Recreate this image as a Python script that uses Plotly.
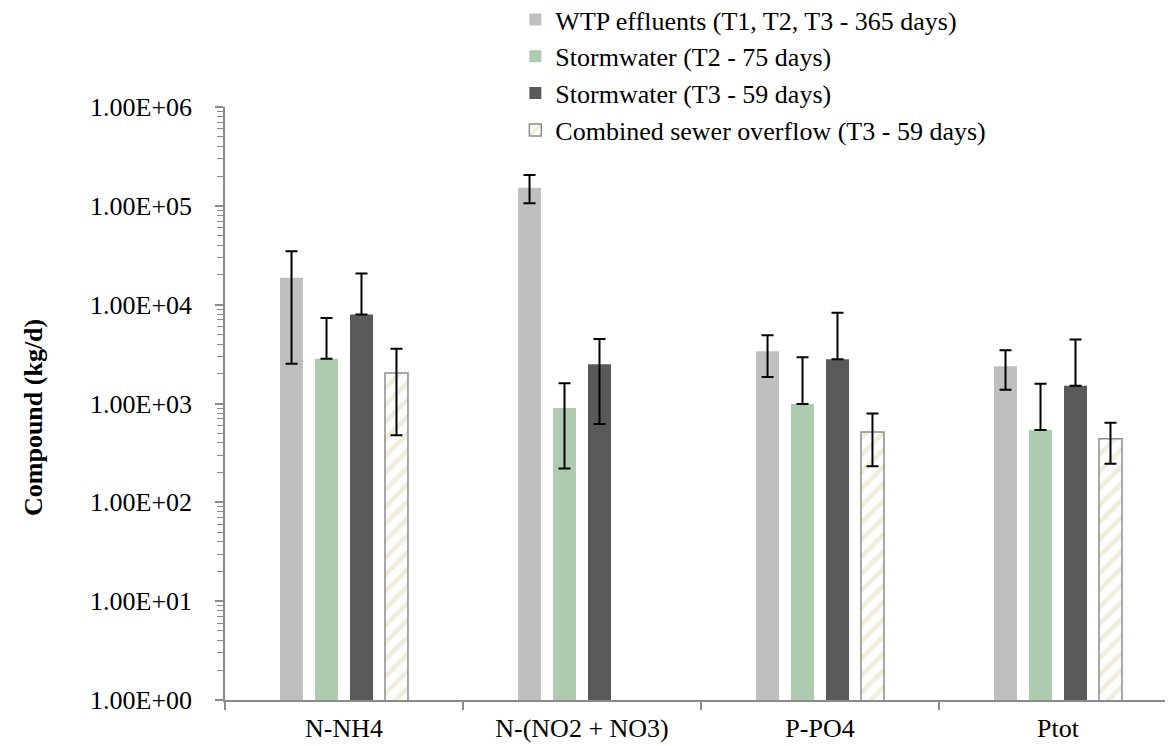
import plotly.graph_objects as go

categories = ["N-NH4", "N-(NO2 + NO3)", "P-PO4", "Ptot"]

series_names = [
    "WTP effluents (T1, T2, T3 - 365 days)",
    "Stormwater (T2 - 75 days)",
    "Stormwater (T3 - 59 days)",
    "Combined sewer overflow (T3 - 59 days)",
]

# mean values (kg/d)
wtp_values = [1.87e4, 1.52e5, 3.38e3, 2.38e3]
storm_t2_values = [2.83e3, 9.0e2, 9.9e2, 5.4e2]
storm_t3_values = [7.94e3, 2.5e3, 2.81e3, 1.51e3]
cso_values = [2.04e3, None, 5.16e2, 4.41e2]

# error bar upper ends
wtp_upper = [3.48e4, 2.05e5, 4.91e3, 3.46e3]
storm_t2_upper = [7.35e3, 1.6e3, 2.94e3, 1.58e3]
storm_t3_upper = [2.07e4, 4.5e3, 8.26e3, 4.43e3]
cso_upper = [3.59e3, None, 7.9e2, 6.37e2]

# error bar lower ends
wtp_lower = [2.53e3, 1.06e5, 1.85e3, 1.38e3]
storm_t2_lower = [2.83e3, 2.2e2, 9.9e2, 5.4e2]
storm_t3_lower = [7.94e3, 6.2e2, 2.81e3, 1.51e3]
cso_lower = [4.78e2, None, 2.32e2, 2.45e2]

y_tick_values = [1, 10, 100, 1000, 10000, 100000, 1000000]
y_tick_text = [f"{v:.2E}" for v in y_tick_values]

FONT = "Liberation Serif"
AXIS_COLOR = "#8A8A8A"


def err(vals, up, lo):
    plus, minus = [], []
    for v, u, l in zip(vals, up, lo):
        if v is None:
            plus.append(None)
            minus.append(None)
        else:
            plus.append(u - v)
            minus.append(v - l)
    return dict(type="data", symmetric=False, array=plus, arrayminus=minus,
                color="black", thickness=2, width=6)


fig = go.Figure()

styles = [
    dict(marker=dict(color="#BFBFBF", line=dict(width=0))),
    dict(marker=dict(color="#AFCBAF", line=dict(width=0))),
    dict(marker=dict(color="#595959", line=dict(width=0))),
    dict(marker=dict(color="white", line=dict(color="#8C8C8C", width=1.5),
                     pattern=dict(shape="/", fgcolor="#E2DCBB", bgcolor="white",
                                  size=12, solidity=0.4))),
]
data = [
    (wtp_values, wtp_upper, wtp_lower),
    (storm_t2_values, storm_t2_upper, storm_t2_lower),
    (storm_t3_values, storm_t3_upper, storm_t3_lower),
    (cso_values, cso_upper, cso_lower),
]

for i, (name, (vals, up, lo), st) in enumerate(zip(series_names, data, styles)):
    fig.add_trace(go.Bar(
        x=categories, y=vals, name=name, legendgroup=f"g{i}",
        error_y=err(vals, up, lo), **st,
    ))

minor_vals = [k * 10 ** d for d in range(6) for k in range(2, 10)]

fig.update_layout(
    width=1173, height=746,
    margin=dict(l=217, r=4, t=99, b=54, autoexpand=False),
    paper_bgcolor="white", plot_bgcolor="white",
    barmode="group", bargap=0.412, bargroupgap=0.343,
    font=dict(family=FONT, size=26, color="black"),
    showlegend=True,
    legend=dict(x=0.305, xanchor="left", y=1.187, yanchor="top",
                font=dict(family=FONT, size=26, color="black"),
                bgcolor="rgba(0,0,0,0)", tracegroupgap=0, itemwidth=30),
    xaxis=dict(
        showline=True, linecolor=AXIS_COLOR, linewidth=1.5,
        ticks="outside", tickson="boundaries", ticklen=8, tickcolor=AXIS_COLOR,
        tickwidth=1.5, showgrid=False, ticklabelstandoff=4,
        tickfont=dict(family=FONT, size=26, color="black"),
    ),
    yaxis=dict(
        type="log", range=[0, 6], showline=True, linecolor=AXIS_COLOR, linewidth=1.5,
        tickmode="array", tickvals=y_tick_values, ticktext=y_tick_text,
        ticks="outside", ticklen=8, tickcolor=AXIS_COLOR, tickwidth=1.5,
        showgrid=False, zeroline=False, ticklabelstandoff=18,
        tickfont=dict(family=FONT, size=26, color="black"),
        minor=dict(tickmode="array", tickvals=minor_vals, ticks="outside",
                   ticklen=6, tickcolor=AXIS_COLOR, tickwidth=1.2, showgrid=False),
    ),
    yaxis2=dict(
        type="log", range=[0, 6], overlaying="y", side="left", anchor="x",
        tickmode="array", tickvals=y_tick_values, ticks="inside", ticklen=7,
        tickcolor=AXIS_COLOR, tickwidth=1.5, showticklabels=False,
        showline=False, showgrid=False, zeroline=False,
    ),
    annotations=[dict(
        text="<b>Compound (kg/d)</b>", textangle=-90, showarrow=False,
        xref="paper", yref="paper", x=(25 - 217) / 952, y=(692 - 410) / 593,
        xanchor="center", yanchor="middle",
        font=dict(family=FONT, size=26, color="black"),
    )],
)

fig.write_html("out.html")
